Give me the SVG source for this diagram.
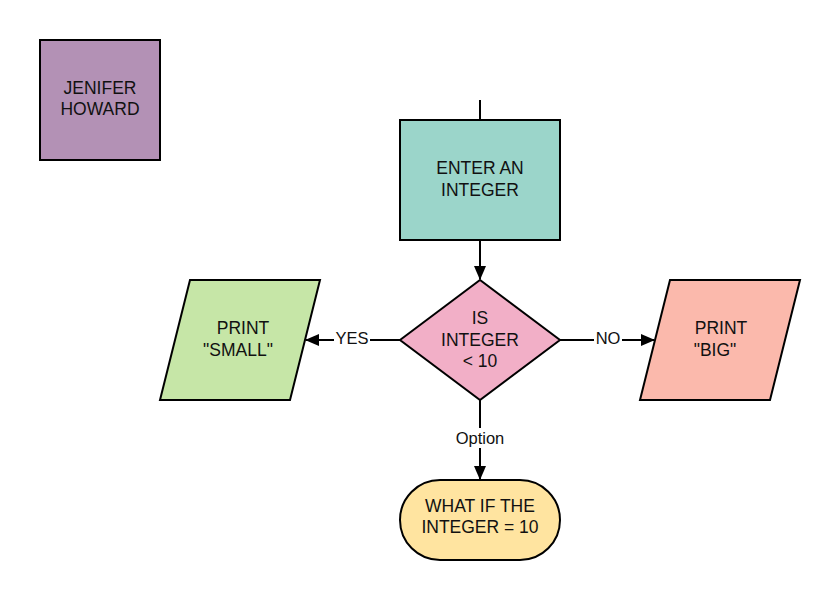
<svg xmlns="http://www.w3.org/2000/svg" width="840" height="600" viewBox="0 0 840 600">
<style>
.n{stroke:#000;stroke-width:2}
text{font-family:"Liberation Sans",Arial,sans-serif;font-size:17.5px;fill:#111;text-anchor:middle}
.c{stroke:#000;stroke-width:2;fill:none}
.lbl{font-size:16.5px}
</style>
<defs>
<marker id="ah" markerWidth="14" markerHeight="12" refX="13" refY="6" orient="auto" markerUnits="userSpaceOnUse">
<path d="M0,0 L14,6 L0,12 Z" fill="#000"/>
</marker>
</defs>
<rect width="840" height="600" fill="#fff"/>
<g id="connectors">
<line class="c" x1="480" y1="100" x2="480" y2="120"/>
<line class="c" x1="480" y1="240" x2="480" y2="279" marker-end="url(#ah)"/>
<line class="c" x1="400" y1="340" x2="306" y2="340" marker-end="url(#ah)"/>
<line class="c" x1="560" y1="340" x2="654" y2="340" marker-end="url(#ah)"/>
<line class="c" x1="480" y1="400" x2="480" y2="479" marker-end="url(#ah)"/>
<rect x="334" y="328" width="36" height="20" fill="#fff"/>
<text class="lbl" x="352" y="344">YES</text>
<rect x="594" y="328" width="28" height="20" fill="#fff"/>
<text class="lbl" x="608" y="344">NO</text>
<rect x="452" y="428" width="56" height="20" fill="#fff"/>
<text class="lbl" x="480" y="444">Option</text>
</g>
<g id="jenifer">
<rect class="n" x="40" y="40" width="120" height="120" fill="#b391b5"/>
<text x="100" y="94">JENIFER</text>
<text x="100" y="115">HOWARD</text>
</g>
<g id="enter">
<rect class="n" x="400" y="120" width="160" height="120" fill="#9bd5ca"/>
<text x="480" y="174">ENTER AN</text>
<text x="480" y="196">INTEGER</text>
</g>
<g id="decision">
<polygon class="n" points="400,340 480,280 560,340 480,400" fill="#f2afc7"/>
<text x="480" y="324">IS</text>
<text x="480" y="346">INTEGER</text>
<text x="480" y="367">&lt; 10</text>
</g>
<g id="small">
<polygon class="n" points="190,280 320,280 290,400 160,400" fill="#c6e6a7"/>
<text x="243" y="334">PRINT</text>
<text x="238" y="356">"SMALL"</text>
</g>
<g id="big">
<polygon class="n" points="670,280 800,280 770,400 640,400" fill="#fbb9ac"/>
<text x="721" y="334">PRINT</text>
<text x="715" y="356">"BIG"</text>
</g>
<g id="terminal">
<rect class="n" x="400" y="480" width="160" height="80" rx="40" ry="40" fill="#ffe4a0"/>
<text x="480" y="512">WHAT IF THE</text>
<text x="480" y="533">INTEGER = 10</text>
</g>
</svg>
